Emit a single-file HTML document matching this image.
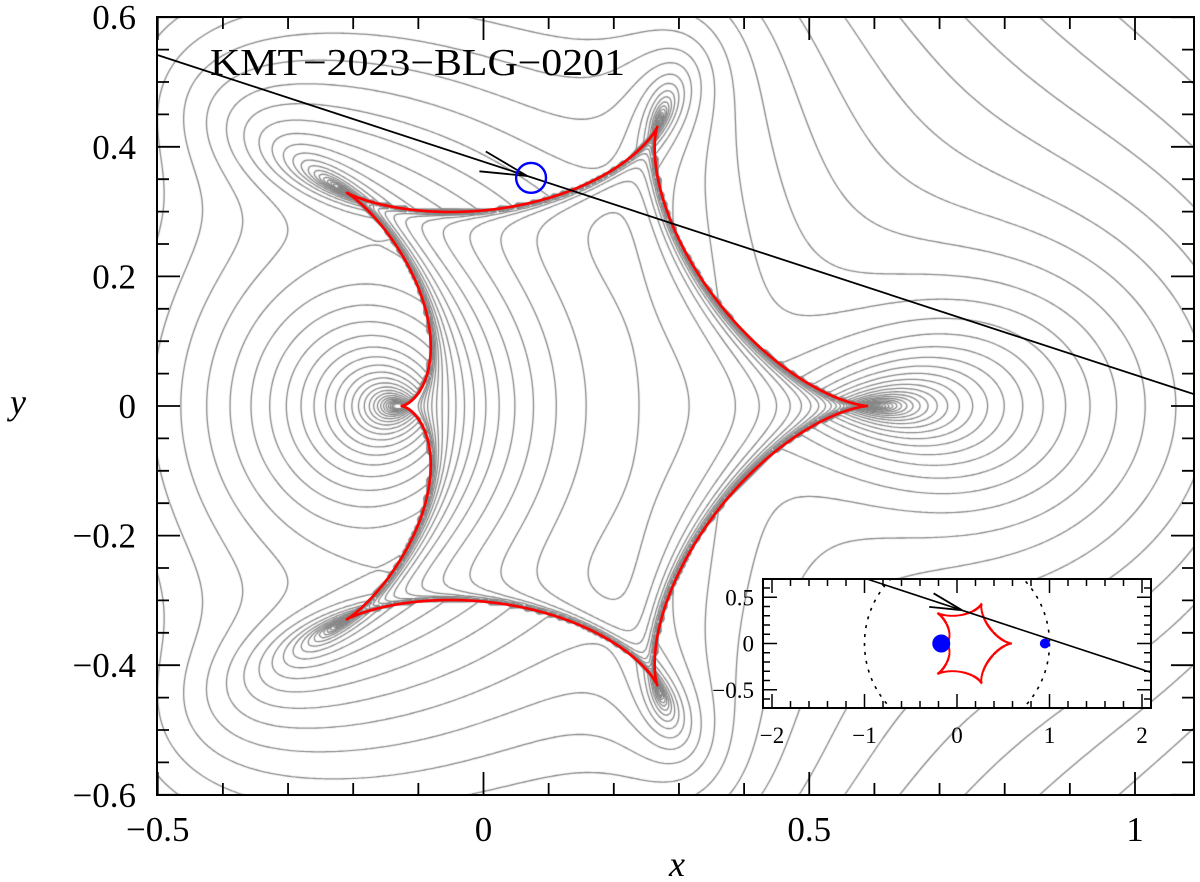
<!DOCTYPE html>
<html><head><meta charset="utf-8">
<style>
html,body{margin:0;padding:0;background:#fff;}
#wrap{position:relative;width:1200px;height:882px;overflow:hidden;}
canvas,svg{position:absolute;left:0;top:0;}
text{font-family:"Liberation Serif",serif;fill:#000;}
</style></head>
<body>
<div id="wrap">
<canvas id="cv" width="1200" height="882"></canvas>
<svg id="sv" width="1200" height="882" xmlns="http://www.w3.org/2000/svg">
<defs>
<clipPath id="mainClip"><rect x="157" y="17" width="1037" height="778"/></clipPath>
<clipPath id="insetClip"><rect x="763" y="579" width="388" height="129"/></clipPath>
</defs>
<g id="mainLayer" clip-path="url(#mainClip)"></g>
<g id="axes"></g>
<text x="210" y="75" font-size="38" textLength="415" lengthAdjust="spacingAndGlyphs">KMT−2023−BLG−0201</text>
<text x="677" y="876" font-size="36" font-style="italic" text-anchor="middle">x</text>
<text x="18" y="414" font-size="36" font-style="italic" text-anchor="middle">y</text>
<g id="inset"></g>
</svg>
</div>
<script>
// ---- data ----
const lensPos=[-0.17,0.95];
const lensMass=[0.835,0.165];
const xTicksMajor=[-0.5,0,0.5,1];
const xTickLabels=["−0.5","0","0.5","1"];
const yTicksMajor=[-0.6,-0.4,-0.2,0,0.2,0.4,0.6];
const yTickLabels=["−0.6","−0.4","−0.2","0","0.2","0.4","0.6"];
const insetXTicks=[-2,-1,0,1,2];
const insetXLabels=["−2","−1","0","1","2"];
const insetYTicks=[-0.5,0,0.5];
const insetYLabels=["−0.5","0","0.5"];
const trajStart=[-0.5,0.5415];
const trajSlope=[-0.329];
const sourcePos=[0.073,0.352];
const sourceRadius=[0.023];
const arrowTip=[0.067,0.355];
const insetArrowTip=[0.054,0.36];

const X=x=>483.5+651.5*x, Y=y=>406-648*y;
const IX=x=>957+92.5*x, IY=y=>643.5-92.5*y;
const NS="http://www.w3.org/2000/svg";
function mk(tag,attrs,parent){const e=document.createElementNS(NS,tag);for(const k in attrs)e.setAttribute(k,attrs[k]);parent.appendChild(e);return e;}

// ---- polynomial helpers ----
function cmul(a,b){return [a[0]*b[0]-a[1]*b[1],a[0]*b[1]+a[1]*b[0]];}
function pmul(a,b){const r=[];for(let k=0;k<a.length+b.length-1;k++)r.push([0,0]);
 for(let i=0;i<a.length;i++)for(let j=0;j<b.length;j++){const t=cmul(a[i],b[j]);r[i+j][0]+=t[0];r[i+j][1]+=t[1];}return r;}
function padd(){let n=0;for(const p of arguments)n=Math.max(n,p.length);const r=[];for(let k=0;k<n;k++)r.push([0,0]);
 for(const p of arguments)for(let k=0;k<p.length;k++){r[k][0]+=p[k][0];r[k][1]+=p[k][1];}return r;}
function psc(p,c){return p.map(a=>cmul(a,c));}
function dk(poly,roots){
 const n=poly.length-1;const lr=poly[n][0],li=poly[n][1];const d=lr*lr+li*li;
 const cr=[],ci=[];for(let k=0;k<=n;k++){const a=poly[k];cr.push((a[0]*lr+a[1]*li)/d);ci.push((a[1]*lr-a[0]*li)/d);}
 const rr=roots[0],ri=roots[1];
 for(let it=0;it<120;it++){let mx=0;
  for(let i=0;i<n;i++){let pr=1,pi=0;const xr=rr[i],xi=ri[i];
   let vr=1,vi=0;for(let k=n-1;k>=0;k--){const tr=vr*xr-vi*xi+cr[k];const ti=vr*xi+vi*xr+ci[k];vr=tr;vi=ti;}
   for(let j=0;j<n;j++){if(j===i)continue;const dr=xr-rr[j],di=xi-ri[j];const tr=pr*dr-pi*di;pi=pr*di+pi*dr;pr=tr;}
   const q=pr*pr+pi*pi;if(q<1e-300){rr[i]+=1e-6;ri[i]+=1e-6;continue;}
   const ur=(vr*pr+vi*pi)/q,ui=(vi*pr-vr*pi)/q;rr[i]-=ur;ri[i]-=ui;mx=Math.max(mx,Math.abs(ur)+Math.abs(ui));}
  if(mx<1e-12)break;}
}
const [z1,z2]=lensPos,[m1,m2]=lensMass;
const D=pmul([[-z1,0],[1,0]],[[-z2,0],[1,0]]);
function magnification(sx,sy,roots){
 const N=padd(psc(D,[sx,-sy]),psc([[-z2,0],[1,0]],[m1,0]),psc([[-z1,0],[1,0]],[m2,0]));
 const P1=padd(N,psc(D,[-z1,0])),P2=padd(N,psc(D,[-z2,0]));
 const poly=padd(pmul(pmul([[-sx,-sy],[1,0]],P1),P2),psc(pmul(D,P2),[-m1,0]),psc(pmul(D,P1),[-m2,0]));
 dk(poly,roots);
 let A=0;
 for(let i=0;i<5;i++){const a=roots[0][i],b=roots[1][i];
  let zr=a,zi=b,gr=0,gi=0;
  for(let k=0;k<2;k++){const wr=a-lensPos[k],wi=-b;const q=wr*wr+wi*wi;
   zr-=lensMass[k]*wr/q;zi-=lensMass[k]*(-wi)/q;
   const w2r=wr*wr-wi*wi,w2i=2*wr*wi;const q2=q*q;gr+=lensMass[k]*w2r/q2;gi+=lensMass[k]*(-w2i)/q2;}
  if(Math.hypot(zr-sx,zi-sy)<1e-5){A+=1/Math.abs(1-(gr*gr+gi*gi));}}
 return A;
}
// ---- contour grid ----
const cv=document.getElementById('cv');const ctx=cv.getContext('2d');
const step=3,px0=157,py0=17,W=1037,H=778;
const nx=Math.ceil(W/step)+1,ny=Math.ceil(H/step)+1;
const F=new Float64Array(nx*ny);
let rowStart=[[1.2,0.3,-0.8,-0.5,0.6],[0.9,-1.1,0.5,-0.7,0.2]];
for(let j=0;j<ny;j++){
 const roots=[rowStart[0].slice(),rowStart[1].slice()];
 for(let i=0;i<nx;i++){
  const sx=(px0+i*step-483.5)/651.5,sy=(406-(py0+j*step))/648;
  let A=magnification(sx,sy,roots);
  if(!(A>=1))A=1.0001;
  F[j*nx+i]=Math.log10(Math.max(A-1,1e-4));
  if(i===0)rowStart=[roots[0].slice(),roots[1].slice()];
 }
}
const levels=[];for(let v=-1.3;v<=1.6;v+=0.065)levels.push(v);
ctx.save();ctx.beginPath();ctx.rect(157,17,1037,778);ctx.clip();
ctx.strokeStyle='rgb(135,135,135)';ctx.lineWidth=1.3;
for(const L of levels){
 ctx.beginPath();
 for(let j=0;j<ny-1;j++)for(let i=0;i<nx-1;i++){
  const a=F[j*nx+i],b=F[j*nx+i+1],c=F[(j+1)*nx+i+1],d=F[(j+1)*nx+i];
  const x0=px0+i*step,y0=py0+j*step;
  const pts=[];
  if((a<L)!==(b<L))pts.push([x0+step*(L-a)/(b-a),y0]);
  if((b<L)!==(c<L))pts.push([x0+step,y0+step*(L-b)/(c-b)]);
  if((d<L)!==(c<L))pts.push([x0+step*(L-d)/(c-d),y0+step]);
  if((a<L)!==(d<L))pts.push([x0,y0+step*(L-a)/(d-a)]);
  if(pts.length>=2){ctx.moveTo(pts[0][0],pts[0][1]);ctx.lineTo(pts[1][0],pts[1][1]);}
  if(pts.length===4){ctx.moveTo(pts[2][0],pts[2][1]);ctx.lineTo(pts[3][0],pts[3][1]);}
 }
 ctx.stroke();
}
ctx.restore();

// ---- caustic ----
const caustic=[[],[],[],[]];
{const roots=[[1.5,-1.2,0.3,0.4],[0.1,0.1,0.9,-0.9]];
 for(let k=0;k<=3000;k++){const ph=2*Math.PI*k/3000;const e=[-Math.cos(ph),-Math.sin(ph)];
  const poly=padd(psc(pmul([[-z2,0],[1,0]],[[-z2,0],[1,0]]),[m1,0]),psc(pmul([[-z1,0],[1,0]],[[-z1,0],[1,0]]),[m2,0]),psc(pmul(D,D),e));
  dk(poly,roots);
  for(let i=0;i<4;i++){const a=roots[0][i],b=roots[1][i];let zr=a,zi=b;
   for(let q=0;q<2;q++){const wr=a-lensPos[q],wi=-b;const d2=wr*wr+wi*wi;zr-=lensMass[q]*wr/d2;zi-=lensMass[q]*(-wi)/d2;}
   caustic[i].push([zr,zi]);}}}
function causticPath(fx,fy){let s='';for(const tr of caustic){let prev=null;for(const p of tr){const x=fx(p[0]),y=fy(p[1]);
 if(!prev||Math.hypot(x-prev[0],y-prev[1])>40)s+='M'+x.toFixed(1)+' '+y.toFixed(1);else s+='L'+x.toFixed(1)+' '+y.toFixed(1);prev=[x,y];}}return s;}

const main=document.getElementById('mainLayer');
const cp=mk('path',{d:causticPath(X,Y),fill:'none',stroke:'#f00','stroke-width':2.6,'stroke-linejoin':'round'},main);


function trajY(x){return trajStart[1]+trajSlope[0]*(x-trajStart[0]);}
const tl=mk('line',{x1:X(-0.5),y1:Y(trajY(-0.5)),x2:X(1.1),y2:Y(trajY(1.1)),stroke:'#000','stroke-width':1.8},main);


function arrow(tip,fx,fy,len,parent,name){
 const tx=fx(tip[0]),ty=fy(tip[1]);const dx=fx(1)-fx(0),dy=fy(trajSlope[0])-fy(0);const ang=Math.atan2(dy,dx);
 let d='';for(const s of [-1,1]){const a=ang+Math.PI+s*12.5*Math.PI/180;d+='M'+(tx+len*Math.cos(a)).toFixed(1)+' '+(ty+len*Math.sin(a)).toFixed(1)+'L'+tx.toFixed(1)+' '+ty.toFixed(1);}
 const p=mk('path',{d:d,fill:'none',stroke:'#000','stroke-width':1.8},parent);
 
 
}
arrow(arrowTip,X,Y,48,main,'trajectory-arrow');
const sc=mk('circle',{cx:X(sourcePos[0]),cy:Y(sourcePos[1]),r:sourceRadius[0]*650,fill:'none',stroke:'#00f','stroke-width':2.4},main);



// ---- main axes ----
const ax=document.getElementById('axes');
const fr=mk('rect',{x:157,y:17,width:1037,height:778,fill:'none',stroke:'#000','stroke-width':2},ax);


let td='';
for(let k=-5;k<=10;k++){const v=k/10,x=X(v);const maj=(k%5===0);const L=maj?23:12;td+=`M${x} 795v${-L}M${x} 17v${L}`;}
for(let k=-12;k<=12;k++){const v=k*0.05,y=Y(v);const maj=(k%4===0);const L=maj?23:12;td+=`M157 ${y}h${L}M1194 ${y}h${-L}`;}
const tk=mk('path',{d:td,stroke:'#000','stroke-width':1.8,fill:'none'},ax);


xTicksMajor.forEach((v,i)=>{const t=mk('text',{x:X(v),y:841,'font-size':35,'text-anchor':'middle'},ax);t.textContent=xTickLabels[i];
 
 });
yTicksMajor.forEach((v,i)=>{const t=mk('text',{x:136,y:Y(v)+12,'font-size':35,'text-anchor':'end'},ax);t.textContent=yTickLabels[i];
 
 });

// ---- inset ----
const ins=document.getElementById('inset');
const ib=mk('rect',{x:763,y:579,width:388,height:129,fill:'#fff'},ins);


const ic=mk('g',{'clip-path':'url(#insetClip)'},ins);
const er=mk('circle',{cx:IX(0),cy:IY(0),r:92.5,fill:'none',stroke:'#000','stroke-width':1.6,'stroke-dasharray':'3 6'},ic);


const icp=mk('path',{d:causticPath(IX,IY),fill:'none',stroke:'#f00','stroke-width':1.8},ic);


const l1=mk('circle',{cx:IX(lensPos[0]),cy:IY(0),r:9,fill:'#00f'},ic);


const l2=mk('circle',{cx:IX(lensPos[1]),cy:IY(0),r:5,fill:'#00f'},ic);


const itl=mk('line',{x1:IX(-1.2),y1:IY(trajY(-1.2)),x2:IX(2.2),y2:IY(trajY(2.2)),stroke:'#000','stroke-width':1.6},ic);


arrow(insetArrowTip,IX,IY,33,ic,'inset-trajectory-arrow');
let itd='';
for(let k=-10;k<=10;k++){const x=IX(k/5);const L=(k%5===0)?14:7;itd+=`M${x} 708v${-L}M${x} 579v${L}`;}
for(let k=-6;k<=6;k++){const y=IY(k/10);const L=(k%5===0)?14:7;itd+=`M763 ${y}h${L}M1151 ${y}h${-L}`;}
const itk=mk('path',{d:itd,stroke:'#000','stroke-width':1.5,fill:'none'},ins);


const ifr=mk('rect',{x:763,y:579,width:388,height:129,fill:'none',stroke:'#000','stroke-width':2},ins);


insetXTicks.forEach((v,i)=>{const t=mk('text',{x:IX(v),y:743,'font-size':23,'text-anchor':'middle'},ins);t.textContent=insetXLabels[i];
 
 });
insetYTicks.forEach((v,i)=>{const t=mk('text',{x:754,y:IY(v)+8,'font-size':23,'text-anchor':'end'},ins);t.textContent=insetYLabels[i];
 
 });
</script>
</body></html>
